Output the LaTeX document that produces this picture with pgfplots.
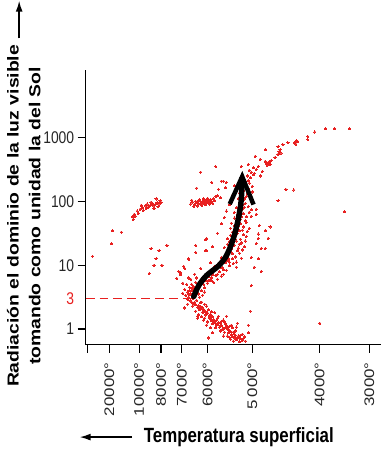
\documentclass[border=0pt]{standalone}
\usepackage{fontspec}
\setmainfont{Liberation Sans}
\usepackage{pgfplots}
\pgfplotsset{compat=1.18}
\usetikzlibrary{arrows.meta}
\definecolor{dotred}{RGB}{232,32,32}
\pgfplotstableread{
x y
106 0.44
109 0.40
112 0.45
114 0.37
117 0.42
120 0.39
108 0.36
113 0.34
118 0.33
122 0.36
103 0.39
115 0.30
111 0.28
114 0.23
118 0.26
121 0.22
124 0.30
126 0.23
113 0.20
120 0.17
128 0.19
116 0.31
123 0.25
130 0.26
119 0.14
123 0.11
126 0.16
130 0.12
133 0.17
136 0.09
128 0.08
132 0.06
139 0.14
122 0.06
141 0.08
134 0.20
131 0.02
135 0.03
138 0.00
142 0.05
145 -0.02
148 0.02
140 -0.05
144 -0.06
151 -0.03
136 -0.03
152 0.03
147 0.06
143 -0.11
147 -0.09
150 -0.14
154 -0.11
157 -0.16
160 -0.12
152 -0.17
146 -0.16
158 -0.08
155 -0.20
149 -0.19
161 -0.19
126 0.02
139 -0.11
164 -0.06
128 -0.06
153 0.09
113 0.17
100 0.33
124 -0.14
142 0.20
110 0.42
116 0.35
119 0.29
125 0.21
129 0.15
134 0.10
137 0.05
143 0.01
146 -0.04
150 -0.08
153 -0.13
156 -0.10
127 0.13
131 0.09
121 0.27
117 0.19
140 0.11
145 0.04
148 -0.12
159 -0.15
107 0.42
111 0.38
115 0.33
119 0.31
122 0.24
125 0.18
128 0.12
133 0.07
137 0.12
141 0.02
144 -0.01
149 -0.05
151 -0.10
155 -0.14
158 -0.18
145 -0.13
139 0.00
132 0.14
127 0.27
116 0.41
104 0.50
106 0.55
108 0.60
110 0.52
112 0.58
105 0.65
103 0.58
107 0.70
109 0.66
111 0.73
113 0.62
115 0.68
114 0.55
117 0.60
116 0.74
119 0.70
118 0.80
121 0.76
120 0.65
123 0.72
101 0.53
100 0.62
102 0.70
106 0.78
112 0.80
124 0.82
126 0.78
122 0.86
125 0.90
128 0.85
108 0.48
98 0.56
115 0.50
118 0.53
120 0.58
105 0.60
107 0.64
110 0.62
103 0.46
109 0.56
113 0.67
104 0.54
118 0.74
124 0.76
129 0.73
133 0.78
127 0.81
121 0.79
122 0.85
126 0.88
131 0.84
135 0.90
139 0.86
142 0.92
129 0.92
137 0.83
130 0.98
134 1.02
138 0.96
141 1.04
145 0.99
149 1.03
152 0.97
143 1.07
136 1.06
137 1.12
141 1.16
144 1.10
148 1.18
151 1.13
155 1.19
157 1.11
146 1.21
153 1.23
140 1.28
143 1.33
147 1.26
150 1.31
154 1.27
157 1.35
160 1.29
145 1.37
152 1.38
143 1.42
146 1.47
150 1.44
153 1.50
156 1.41
159 1.48
162 1.45
148 1.52
155 1.54
146 1.58
150 1.62
153 1.57
156 1.65
159 1.60
162 1.67
165 1.58
152 1.69
150 1.74
153 1.79
156 1.72
159 1.81
162 1.76
165 1.83
155 1.85
161 1.70
152 1.90
155 1.95
158 1.88
161 1.97
164 1.92
167 1.99
157 2.01
154 2.05
157 2.10
160 2.04
163 2.13
166 2.07
168 2.15
159 2.17
156 2.20
159 2.26
162 2.22
165 2.29
168 2.24
161 2.31
160 2.35
163 2.40
166 2.37
169 2.42
164 2.33
145 1.30
149 1.36
151 1.49
154 1.62
157 1.76
160 1.91
158 1.55
155 1.33
148 1.10
145 1.05
139 0.93
133 0.86
127 0.76
152 1.05
158 1.24
161 1.38
163 1.53
158 1.95
162 2.08
164 2.20
155 2.13
150 1.83
147 1.66
143 1.20
136 0.97
132 0.94
128 0.88
96 0.88
92 0.79
99 0.98
104 1.09
111 1.20
121 1.40
122 1.23
128 1.29
133 1.50
137 1.65
140 1.75
126 1.04
116 0.95
110 0.86
142 1.85
145 1.95
148 2.10
150 2.25
174 1.49
181 1.54
172 1.34
177 1.26
174 1.10
167 1.12
170 0.97
177 0.90
167 0.68
166 0.28
164 0.06
172 1.80
167 1.87
175 1.62
27 1.54
36 1.52
26 1.34
7 1.14
236 0.09
261 1.84
202 2.19
210 2.18
194 2.01
66 1.26
74 1.23
71 1.10
82 1.31
69 1.00
77 1.00
64 0.87
94 0.90
92 0.79
99 0.98
104 1.10
111 1.31
122 1.42
121 1.23
96 0.85
100 0.95
104 0.80
98 0.72
106 1.96
108 1.99
110 1.95
112 1.98
114 2.01
116 1.97
118 1.99
120 2.02
122 1.98
124 2.00
126 2.03
117 1.94
121 1.95
113 1.93
109 1.92
119 2.04
123 2.05
115 2.03
125 1.96
127 2.00
129 2.04
131 2.08
128 1.97
111 2.00
107 2.02
130 2.01
133 2.09
136 2.06
118 1.96
120 1.99
124 1.97
116 2.00
114 1.96
122 2.01
118 2.00
119 1.98
121 2.00
123 1.99
125 2.01
117 1.98
120 1.97
122 2.03
124 2.03
126 1.99
119 2.01
121 2.02
47 1.76
49 1.80
52 1.85
55 1.88
57 1.90
60 1.93
62 1.96
65 1.94
67 1.97
70 1.95
72 1.98
74 1.96
76 1.99
71 2.04
48 1.72
50 1.77
58 1.86
63 1.91
68 1.93
73 1.92
53 1.81
61 1.89
66 1.99
75 2.01
56 1.94
69 1.89
157 2.55
164 2.58
169 2.53
174 2.55
171 2.71
181 2.63
184 2.61
186 2.58
191 2.69
194 2.74
196 2.81
194 2.86
199 2.89
204 2.92
211 2.92
214 2.94
224 3.02
224 2.97
231 3.09
242 3.14
251 3.14
266 3.14
167 2.46
176 2.40
154 2.30
142 2.30
137 2.32
131 2.55
116 2.46
112 2.21
134 2.19
141 2.22
182 2.60
185 2.62
183 2.57
187 2.64
195 2.78
197 2.76
212 2.90
213 2.95
165 2.49
170 2.44
172 2.50
178 2.47
176 2.66
181 2.81
186 1.60
184 1.42
181 1.26
174 1.10
177 0.90
174 1.42
181 1.54
167 1.77
172 1.88
127 2.30
139 2.32
}\stars
\begin{document}
\begin{tikzpicture}
\begin{axis}[
  set layers,
  scale only axis, width=298pt, height=277pt,
  xmin=0, xmax=298, ymin=-0.249, ymax=4.06,
  axis lines*=left,
  axis line style={line width=1.2pt, black},
  tick style={line width=1.1pt, black},
  tick align=outside,
  major tick length=8pt,
  minor tick num=0,
  xtick={2,24,54,76,97,123,168,236,286},
  xticklabels={,\scalebox{1.22}[1]{20000°},\scalebox{1.22}[1]{10000°},\scalebox{1.22}[1]{8000°},\scalebox{1.22}[1]{7000°},\scalebox{1.22}[1]{6000°},\scalebox{1.22}[1]{5\,000°},\scalebox{1.22}[1]{4000°},\scalebox{1.22}[1]{3000°}},
  xticklabel style={yshift=-6pt, rotate=90, anchor=east, font=\fontsize{14}{14}\selectfont, text=black!85},
  ytick={0,1,2,3},
  yticklabels={\scalebox{1}[1.22]{1},\scalebox{1}[1.22]{10},\scalebox{1}[1.22]{100},\scalebox{1}[1.22]{1000}},
  yticklabel style={font=\fontsize{14}{14}\selectfont, text=black!85},
  extra y ticks={0.477},
  extra y tick labels={\scalebox{1}[1.22]{3}},
  extra y tick style={major tick length=0pt, yticklabel style={text=dotred, xshift=-8pt}},
  xlabel={\scalebox{1}[1.22]{\bfseries Temperatura superficial}},
  xlabel style={at={(axis description cs:0.5,0)}, anchor=center, yshift=-93pt, xshift=5.5pt, font=\fontsize{17}{17}\selectfont},
  ylabel={\scalebox{1.22}[1]{\bfseries\begin{tabular}{@{}c@{}}Radiación el dominio de la luz visible\\tomando como unidad la del Sol\end{tabular}}},
  ylabel style={at={(axis description cs:0,0.5)}, anchor=center, yshift=61pt, xshift=-8.5pt, font=\fontsize{16}{22}\selectfont},
  clip=false,
]
\addplot[dotred, only marks, mark=*, mark size=1.1pt, mark options={draw=dotred, fill=dotred, line width=0pt}] table[x=x, y=y] {\stars};
\addplot[dotred, line width=1.6pt, dash pattern=on 9pt off 5pt] coordinates {(0,0.477) (107,0.477)};
\addplot[on layer=axis foreground, black, line width=5.5pt, smooth, line cap=round, -{Straight Barb[length=28pt,width=24pt,line width=4.5pt]}] coordinates {(109,0.51) (114,0.68) (122,0.84) (134,0.99) (142,1.15) (149,1.42) (154,1.73) (157,2.04) (158,2.48)};
\end{axis}
\draw[line width=1.5pt, -{Latex[length=11pt,width=7pt]}] ([shift={(-67pt,32pt)}]current axis.north west) -- ([shift={(-67pt,70pt)}]current axis.north west);
\draw[line width=1.5pt, -{Latex[length=11pt,width=7pt]}] ([shift={(47pt,-93pt)}]current axis.south west) -- ([shift={(-6pt,-93pt)}]current axis.south west);
\path ([shift={(-86pt,-103pt)}]current axis.south west) coordinate (bbA);
\path ([shift={(1pt,70pt)}]current axis.north east) coordinate (bbB);
\end{tikzpicture}
\end{document}
